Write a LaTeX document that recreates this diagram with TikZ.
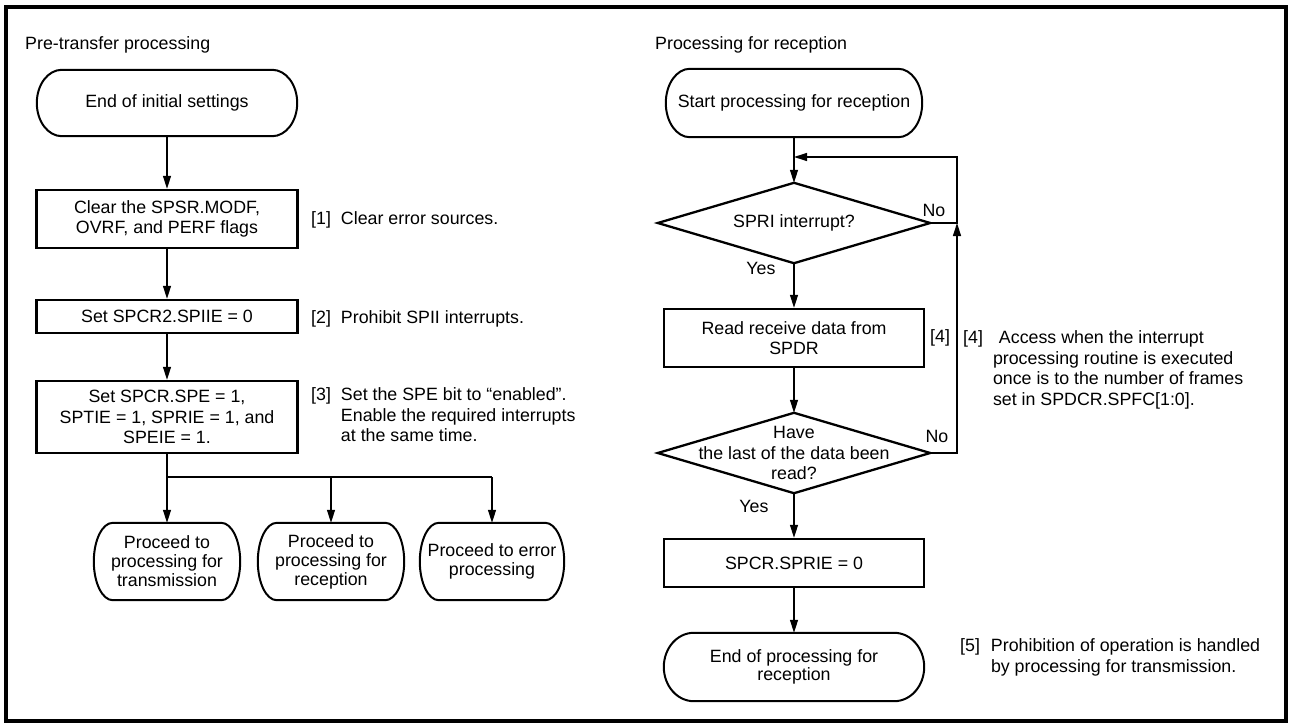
\documentclass[tikz,border=0pt]{standalone}
\usepackage{fontspec}
\setmainfont{Liberation Sans}
\usetikzlibrary{arrows.meta,calc}
\tikzset{
  every node/.style={font=\fontsize{17.8}{20.5}\selectfont, inner sep=0pt},
  frame/.style={line width=3.5pt},
  box/.style={draw, line width=2.4pt, align=center},
  term/.style={shape=rectangle, align=center},
  termline/.style={line width=2pt},
  dialine/.style={line width=2.3pt},
  conn/.style={line width=1.3pt},
  arr/.style={conn, -{Triangle[length=13pt,width=8pt]}},
  note/.style={anchor=north west},
  lbl/.style={}
}
\newcommand\termdraw[2]{%
  \draw[termline] let \p1=(#1.north east), \p2=(#1.south west), \n1={(\y1-\y2)/2} in
    (\x2+#2pt,\y1) -- (\x1-#2pt,\y1)
    arc[start angle=90,end angle=-90,x radius=#2pt,y radius=\n1]
    -- (\x2+#2pt,\y2)
    arc[start angle=270,end angle=90,x radius=#2pt,y radius=\n1] -- cycle;}
\newcommand\diadraw[1]{%
  \draw[dialine] (#1.north) -- (#1.east) -- (#1.south) -- (#1.west) -- cycle;}
\begin{document}
\begin{tikzpicture}[x=1pt,y=-1pt]
\useasboundingbox (0,0) rectangle (1290,725);
\draw[frame] (6,7) rectangle (1286,721);

% ---------------- left column ----------------
\node[anchor=west] (title1) at (25,45) {Pre-transfer processing};
\node[term, minimum width=260pt, minimum height=66pt] (t1) at (167,103) {End of initial settings};
\termdraw{t1}{25}
\node[box, minimum width=261pt, minimum height=58pt] (b1) at (167,219) {Clear the SPSR.MODF,\\OVRF, and PERF flags};
\node[box, minimum width=261pt, minimum height=33pt] (b2) at (167,316.5) {Set SPCR2.SPIIE = 0};
\node[box, minimum width=261pt, minimum height=72pt] (b3) at (167,417) {Set SPCR.SPE = 1,\\SPTIE = 1, SPRIE = 1, and\\SPEIE = 1.};

\node[term, minimum width=146pt, minimum height=77pt, font=\fontsize{17.8}{19}\selectfont] (p1) at (167,561.5) {Proceed to\\processing for\\transmission};
\termdraw{p1}{19}
\node[term, minimum width=146pt, minimum height=77pt, font=\fontsize{17.8}{19}\selectfont] (p2) at (331,561.5) {Proceed to\\processing for\\reception};
\termdraw{p2}{19}
\node[term, minimum width=144pt, minimum height=77pt, font=\fontsize{17.8}{19}\selectfont] (p3) at (492,561.5) {Proceed to error\\processing};
\termdraw{p3}{19}

\draw[arr] (t1.south) -- (b1.north);
\draw[arr] (b1.south) -- (b2.north);
\draw[arr] (b2.south) -- (b3.north);
\coordinate (jn) at (167,477);
\draw[conn] (b3.south) -- (jn) -- (jn -| p3.north);
\draw[arr] (jn) -- (p1.north);
\draw[arr] (jn -| p2.north) -- (p2.north);
\draw[arr] (jn -| p3.north) -- (p3.north);

\node[note] (n1) at (311,210) {\begin{tabular}{@{}l@{\hspace{10pt}}l@{}}[1] & Clear error sources.\end{tabular}};
\node[note] (n2) at (311,309) {\begin{tabular}{@{}l@{\hspace{10pt}}l@{}}[2] & Prohibit SPII interrupts.\end{tabular}};
\node[note] (n3) at (311,386) {\begin{tabular}{@{}l@{\hspace{10pt}}l@{}}[3] & Set the SPE bit to “enabled”.\\ & Enable the required interrupts\\ & at the same time.\end{tabular}};

% ---------------- right column ----------------
\node[anchor=west] (title2) at (655,45) {Processing for reception};
\node[term, minimum width=256pt, minimum height=68pt] (t2) at (794,103) {Start processing for reception};
\termdraw{t2}{24}
\coordinate (m) at (794,157);
\node[term, minimum width=272pt, minimum height=80pt] (d1) at (794,223) {SPRI interrupt?};
\diadraw{d1}
\node[box, minimum width=260pt, minimum height=58pt] (r1) at (794,338) {Read receive data from\\SPDR};
\node[term, minimum width=272pt, minimum height=80pt] (d2) at (794,453) {Have\\the last of the data been\\read?};
\diadraw{d2}
\node[box, minimum width=260pt, minimum height=48pt] (r2) at (794,563) {SPCR.SPRIE = 0};
\node[term, minimum width=260pt, minimum height=68pt, font=\fontsize{17.8}{17.5}\selectfont] (t3) at (794,667) {End of processing for\\reception};
\termdraw{t3}{30}

\draw[arr] (t2.south) -- (d1.north);
\draw[arr] (d1.south) -- (r1.north);
\draw[arr] (r1.south) -- (d2.north);
\draw[arr] (d2.south) -- (r2.north);
\draw[arr] (r2.south) -- (t3.north);

\coordinate (lp) at (957,223);
\coordinate (lq) at (957,157);
\draw[arr] (d2.east) -| (lp);
\draw[arr] (d1.east) -| (lq) -- (m);

\node[lbl] (no1) at (934,210) {No};
\node[lbl] (yes1) at (761,268) {Yes};
\node[lbl] (no2) at (937,436) {No};
\node[lbl] (yes2) at (754,506) {Yes};
\node[anchor=west] (r4) at (930,338) {[4]};

\node[note] (n4) at (963,329) {\begin{tabular}{@{}l@{\hspace{10pt}}l@{}}[4] & \hspace{6pt}Access when the interrupt\\ & processing routine is executed\\ & once is to the number of frames\\ & set in SPDCR.SPFC[1:0].\end{tabular}};
\node[note] (n5) at (960,637) {\begin{tabular}{@{}l@{\hspace{11pt}}l@{}}[5] & Prohibition of operation is handled\\ & by processing for transmission.\end{tabular}};
\end{tikzpicture}
\end{document}
